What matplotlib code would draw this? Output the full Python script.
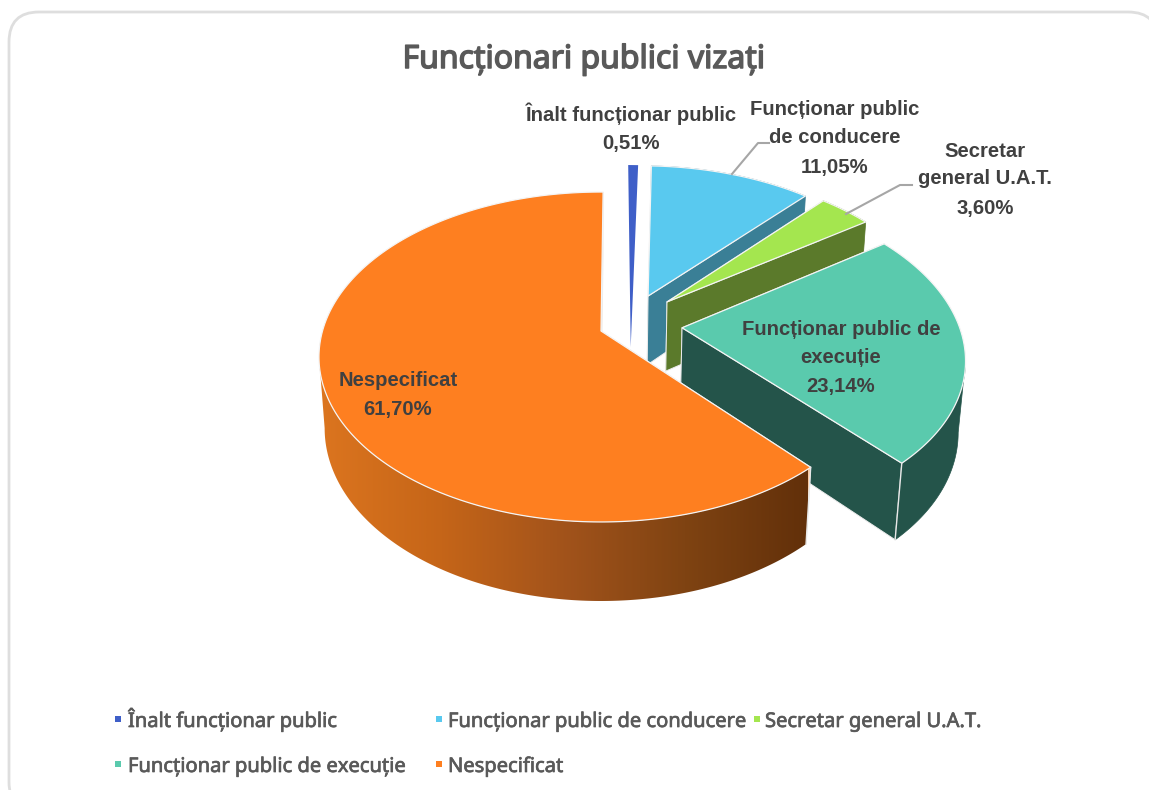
# -*- coding:utf-8 -*-

import numpy as np
import matplotlib
matplotlib.use('Agg')
import matplotlib.pyplot as plt
import matplotlib.patheffects as pe
from matplotlib.colors import LinearSegmentedColormap
from matplotlib.patches import FancyBboxPatch, Polygon, Rectangle

# data
categories = ['Înalt funcționar public', 'Funcționar public de conducere',
              'Secretar general U.A.T.', 'Funcționar public de execuție', 'Nespecificat']
percent = [0.51, 11.05, 3.60, 23.14, 61.70]
label_lines = [['Înalt funcționar public'], ['Funcționar public', 'de conducere'],
               ['Secretar', 'general U.A.T.'], ['Funcționar public de', 'execuție'], ['Nespecificat']]

top_colors = ['#3F5FC8', '#59C9EF', '#A4E64F', '#5ACAAD', '#FE7F20']
side_colors = [None, '#3A7F96', '#5B7A2B', '#24544A', '#F9C9A0']
orange_side = LinearSegmentedColormap.from_list('side', ['#DC751F', '#C56518', '#A2531B', '#7F4312', '#62300A'])

# explosion of each slice (world units) and radius scale
offsets = [(0.105, -0.098), (0.175, 0.225), (0.244, 0.186), (0.292, 0.02), (0.0, 0.0)]
radius = [1.33, 1, 1, 1, 1]
start_angle = 0.5
CX, CY = 601, 331
SX = 278.5
TEXT = '#404040'
GREY = '#595959'


def project(x, y, bottom=False):
    # simple perspective, the floor of the pie is a bit further from the eye
    w = 1 + 0.1576 * y + (0.02 if bottom else 0)
    py = 331 - 108.7 * y + (78.6 if bottom else 0)
    return CX + SX * x / w, py / w


def rim(i, t, bottom=False):
    t = np.radians(t)
    x = offsets[i][0] + radius[i] * np.sin(t)
    y = offsets[i][1] + radius[i] * np.cos(t)
    return project(x, y, bottom)


def wall_outline(i, ts):
    top = [rim(i, t) for t in ts]
    low = [rim(i, t, True) for t in ts]
    if i == 3:
        # right silhouette: go from the widest point of each rim to the corner
        a = int(np.argmax([p[0] for p in top]))
        b = int(np.argmax([p[0] for p in low]))
        return top[a:] + low[b:][::-1]
    if i == 4:
        a = int(np.argmin([p[0] for p in top]))
        b = int(np.argmin([p[0] for p in low]))
        return top[:a + 1] + low[:b + 1][::-1]
    return top + low[::-1]


fig = plt.figure(figsize=(11.49, 7.90), dpi=100)
ax = fig.add_axes([0, 0, 1, 1])
ax.axis('off')

ax.add_patch(FancyBboxPatch((9, 12), 1149, 800, boxstyle='round,pad=0,rounding_size=30',
                            fc='white', ec='#DEDEDE', lw=2))

edges = start_angle + np.cumsum([0] + percent) * 3.6

for i in range(len(percent)):
    t0, t1 = edges[i], edges[i + 1]
    ts = np.linspace(t0, t1, max(int((t1 - t0) * 2) + 2, 2))
    v_top = project(*offsets[i])
    v_bot = project(*offsets[i], bottom=True)

    if side_colors[i]:
        # cut faces
        for t in (t0, t1):
            ax.add_patch(Polygon([v_top, rim(i, t), rim(i, t, True), v_bot], fc=side_colors[i], ec='#EDEDED', lw=0.7))

        # outer wall
        wall = wall_outline(i, ts)
        if i == 4:
            clip = Polygon(wall, fc='none', ec='none')
            ax.add_patch(clip)
            img = ax.imshow(np.linspace(0, 1, 256)[None, :], extent=(319, 808, 620, 180), cmap=orange_side,
                            aspect='auto', zorder=1, interpolation='bilinear')
            img.set_clip_path(clip)
        else:
            ax.add_patch(Polygon(wall, fc=side_colors[i], ec=side_colors[i], lw=0.5))

    # white line at the corner nearest the viewer
    if i == 3:
        ax.plot(*zip(rim(i, t1), rim(i, t1, True)), color='#E8E8E8', lw=1)
    if i == 4:
        ax.plot(*zip(rim(i, t0), rim(i, t0, True)), color='#E8E8E8', lw=1)

    # top face
    pts = [v_top] + [rim(i, t) for t in ts]
    if i == 0:
        ax.add_patch(Polygon(pts, fc=top_colors[i], ec='none'))
    else:
        ax.add_patch(Polygon(pts, fc=top_colors[i], ec='#F4F4F4', lw=0.9, joinstyle='round'))

# leader lines
ax.plot([732, 758, 769], [174, 143, 143], color='#A6A6A6', lw=1.5)
ax.plot([846, 900, 912], [214, 185, 185], color='#A6A6A6', lw=1.5)

# data labels, baselines
label_pos = [(631, [121, 149]), (835, [115, 143, 173]), (985, [157, 184, 214]),
             (841, [335, 363, 392]), (398, [386, 415])]
for i, (lx, lys) in enumerate(label_pos):
    lines = label_lines[i] + [('%.2f%%' % percent[i]).replace('.', ',')]
    for line, ly in zip(lines, lys):
        ax.text(lx, ly, line, ha='center', va='baseline', fontsize=14.6, fontweight='bold',
                family=['Liberation Sans', 'DejaVu Sans'], color=TEXT)

ax.text(584, 68, 'Funcționari publici vizați', ha='center', va='baseline', fontsize=23,
        family=['Noto Sans', 'DejaVu Sans'], color=GREY,
        path_effects=[pe.withStroke(linewidth=1.1, foreground=GREY)])

# legend
legend_pos = [(118, 719), (439, 719), (757, 719), (118, 764), (439, 764)]
legend_text_x = [128, 448, 765, 128, 448]
stroke = [pe.withStroke(linewidth=0.5, foreground=GREY)]
for i, (lx, ly) in enumerate(legend_pos):
    ax.add_patch(Rectangle((lx - 3, ly - 3), 6, 6, fc=top_colors[i], ec='none'))
    ax.text(legend_text_x[i], ly + 8, categories[i], ha='left', va='baseline', fontsize=14.5,
            family=['Noto Sans', 'DejaVu Sans'], color=GREY, path_effects=stroke)

ax.set_xlim(0, 1149)
ax.set_ylim(790, 0)

fig.savefig('out.png', dpi=100)
